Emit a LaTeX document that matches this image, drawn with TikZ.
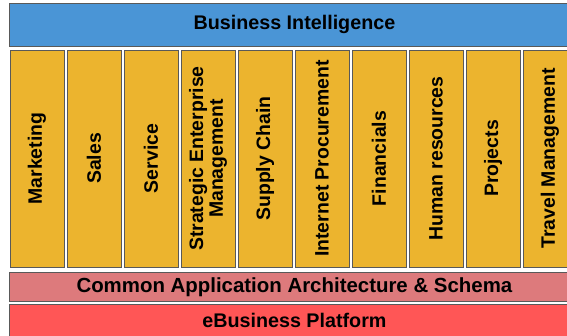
\documentclass[tikz,border=0pt]{standalone}
\usepackage{fontspec}
\setmainfont{Liberation Sans}
\definecolor{biblue}{RGB}{74,149,214}
\definecolor{modgold}{RGB}{236,180,46}
\definecolor{archpink}{RGB}{221,122,124}
\definecolor{platred}{RGB}{255,86,86}

\begin{document}
\begin{tikzpicture}[x=1bp, y=-1bp,
    layer/.style={draw=black!65, line width=0.8bp, inner sep=0pt, anchor=north west,
      minimum width=570bp, font=\fontsize{19.8}{20}\selectfont\bfseries},
    module/.style={draw=black!65, line width=0.7bp, inner sep=0pt, rotate=90, align=center,
      fill=modgold, minimum width=217bp, minimum height=54bp,
      font=\fontsize{19.5}{20}\selectfont\bfseries}]
    \useasboundingbox (0,0) rectangle (567,335);
    \clip (0,0) rectangle (567,335);

    \node[layer, fill=biblue, minimum height=43bp] (bi) at (9,3) {Business Intelligence};

    \foreach \lbl [count=\i from 0] in {Marketing, Sales, Service,
        {Strategic Enterprise\\Management}, Supply Chain, Internet Procurement,
        Financials, Human resources, Projects, Travel Management}
      \node[module] (col\i) at (37+57*\i, 158.5) {\lbl};

    \node[layer, fill=archpink, minimum height=29bp] (caa) at (9,272) {\fontsize{20.5}{20}\selectfont Common Application Architecture \& Schema};
    \node[layer, fill=platred, minimum height=32bp] (ebp) at (9,304) {eBusiness Platform};
  \end{tikzpicture}
\end{document}
